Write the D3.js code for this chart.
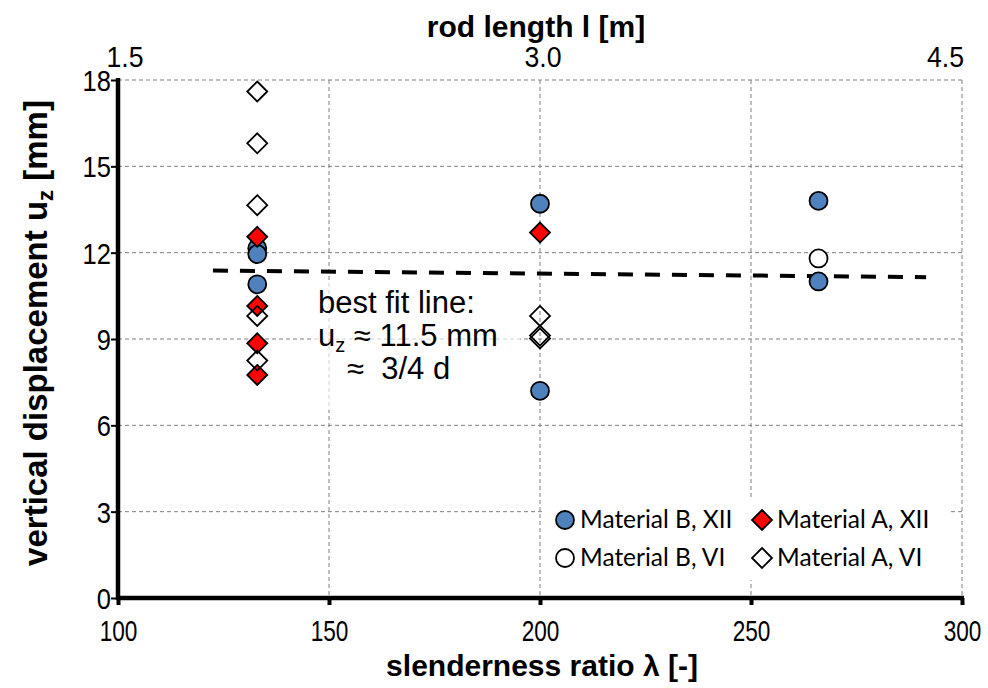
<!DOCTYPE html>
<html>
<head>
<meta charset="utf-8">
<script src="https://cdn.jsdelivr.net/npm/d3@7"></script>
<style>
  html, body { margin: 0; padding: 0; background: #fff; }
  svg { display: block; }
</style>
</head>
<body>
<svg id="chart" width="988" height="688"></svg>
<script>
// Slenderness ratio positions and measured vertical displacement per series
const lambdaBXII = [133, 133, 133, 200, 200, 266, 266];
const uzBXII     = [12.15, 11.95, 10.9, 13.7, 7.2, 13.8, 11.0];

const lambdaBVI  = [266];
const uzBVI      = [11.8];

const lambdaAXII = [133, 133, 133, 133, 200];
const uzAXII     = [12.55, 10.15, 8.85, 7.75, 12.7];

const lambdaAVI  = [133, 133, 133, 133, 133, 200, 200, 200];
const uzAVI      = [17.6, 15.8, 13.65, 9.8, 8.25, 9.8, 9.12, 9.02];

// Best fit line end points
const fitLambda = [122.5, 291.5];
const fitUz     = [11.38, 11.15];

// Axis ticks
const xTicks   = [100, 150, 200, 250, 300];
const yTicks   = [0, 3, 6, 9, 12, 15, 18];
const topTicks = [1.5, 3.0, 4.5];

const seriesNames = ["Material B, XII", "Material A, XII", "Material B, VI", "Material A, VI"];

const svg = d3.select("#chart");
const pL = 118, pR = 962, pT = 80, pB = 598;

const x = d3.scaleLinear().domain([100, 300]).range([pL, pR]);
const y = d3.scaleLinear().domain([0, 18]).range([pB, pT]);
const xTop = d3.scaleLinear().domain([1.5, 4.5]).range([pL, pR]);

const gridColor = "#808080";
const sans = "'Liberation Sans', Arial, sans-serif";

// Gridlines
const grid = svg.append("g");
grid.selectAll("line.h").data(yTicks.filter(d => d > 0)).join("line")
  .attr("x1", pL).attr("x2", pR)
  .attr("y1", d => y(d)).attr("y2", d => y(d))
  .attr("stroke", gridColor).attr("stroke-width", 1).attr("stroke-dasharray", "4,3");
grid.selectAll("line.v").data(xTicks.filter(d => d > 100)).join("line")
  .attr("x1", d => x(d)).attr("x2", d => x(d))
  .attr("y1", pT).attr("y2", pB)
  .attr("stroke", gridColor).attr("stroke-width", 1).attr("stroke-dasharray", "4,3");

// Translucent box behind the annotation
svg.append("rect")
  .attr("x", 314).attr("y", 283).attr("width", 206).attr("height", 127)
  .attr("fill", "#fff").attr("fill-opacity", 0.65);

// Best fit line
svg.append("line")
  .attr("x1", x(fitLambda[0])).attr("y1", y(fitUz[0]))
  .attr("x2", x(fitLambda[1])).attr("y2", y(fitUz[1]))
  .attr("stroke", "#000").attr("stroke-width", 4).attr("stroke-dasharray", "15,12");

// Axes
const tickFont = 29;
const xAxis = d3.axisBottom(x).tickValues(xTicks).tickSize(7).tickFormat(d3.format("d"));
const gx = svg.append("g").attr("transform", `translate(0,${pB})`).call(xAxis);
gx.select(".domain").remove();
gx.selectAll(".tick line").attr("stroke", "#000").attr("stroke-width", 4);
gx.selectAll(".tick text")
  .attr("font-family", sans).attr("font-size", tickFont)
  .attr("fill", "#000").attr("dy", null).attr("y", 43);

const yAxis = d3.axisLeft(y).tickValues(yTicks).tickSize(7).tickFormat(d3.format("d"));
const gy = svg.append("g").attr("transform", `translate(${pL},0)`).call(yAxis);
gy.select(".domain").remove();
gy.selectAll(".tick line").attr("stroke", "#000").attr("stroke-width", 2);
gy.selectAll(".tick text")
  .attr("font-family", sans).attr("font-size", tickFont)
  .attr("fill", "#000").attr("x", -7).attr("dy", "0.36em");

// Thick axis lines
svg.append("line").attr("x1", pL).attr("x2", pL).attr("y1", pT - 2).attr("y2", pB + 2)
  .attr("stroke", "#000").attr("stroke-width", 4.5);
svg.append("line").attr("x1", pL - 2).attr("x2", pR + 2).attr("y1", pB).attr("y2", pB)
  .attr("stroke", "#000").attr("stroke-width", 4.5);

// Condense tick label glyphs horizontally
function condense(sel, sx) {
  sel.each(function() {
    const t = d3.select(this);
    const tx = +t.attr("x") || 0, ty = +t.attr("y") || 0;
    t.attr("transform", `translate(${tx},${ty}) scale(${sx},1)`).attr("x", 0).attr("y", 0);
  });
}
condense(gx.selectAll(".tick text"), 0.78);
condense(gy.selectAll(".tick text"), 0.88);

// Top axis (rod length)
const gt = svg.append("g");
gt.selectAll("text").data(topTicks).join("text")
  .attr("transform", (d, i) => {
    const px = i === topTicks.length - 1 ? xTop(d) + 2 : (i === 0 ? xTop(d) + 7 : xTop(d) + 3);
    return `translate(${px},67) scale(0.92,1)`;
  })
  .attr("text-anchor", (d, i) => i === topTicks.length - 1 ? "end" : "middle")
  .attr("font-family", sans).attr("font-size", tickFont)
  .text(d => d3.format(".1f")(d));

// Axis titles
svg.append("text")
  .attr("x", 536).attr("y", 37)
  .attr("text-anchor", "middle")
  .attr("font-family", sans).attr("font-weight", "bold").attr("font-size", 30)
  .text("rod length l [m]");

svg.append("text")
  .attr("x", 542).attr("y", 676)
  .attr("text-anchor", "middle")
  .attr("font-family", sans).attr("font-weight", "bold").attr("font-size", 30)
  .text("slenderness ratio λ [-]");

const yTitle = svg.append("text")
  .attr("transform", "translate(47,333) rotate(-90)")
  .attr("text-anchor", "middle")
  .attr("font-family", sans).attr("font-weight", "bold").attr("font-size", 33);
yTitle.append("tspan").text("vertical displacement u");
yTitle.append("tspan").attr("font-size", 22).attr("dy", 6).text("z");
yTitle.append("tspan").attr("dy", -6).text(" [mm]");

// Annotation text
const ann = svg.append("g").attr("font-family", sans).attr("font-size", 31).attr("fill", "#000");
ann.append("text").attr("x", 318).attr("y", 313).text("best fit line:");
const l2 = ann.append("text").attr("x", 318).attr("y", 346);
l2.append("tspan").text("u");
l2.append("tspan").attr("font-size", 20).attr("dy", 6).text("z");
l2.append("tspan").attr("dy", -6).text(" ≈ 11.5 mm");
ann.append("text").attr("x", 347).attr("y", 379).text("≈\u00A0 3/4 d");

// Marker shapes
const diamond = r => `M0,${-r}L${r},0L0,${r}L${-r},0Z`;
const blue = "#4F81BD";

function circles(lx, ly, fill) {
  svg.append("g").selectAll("circle").data(lx.map((d, i) => [d, ly[i]])).join("circle")
    .attr("cx", d => x(d[0])).attr("cy", d => y(d[1])).attr("r", 9)
    .attr("fill", fill).attr("stroke", "#000").attr("stroke-width", 1.8);
}
function diamonds(lx, ly, fill) {
  svg.append("g").selectAll("path").data(lx.map((d, i) => [d, ly[i]])).join("path")
    .attr("transform", d => `translate(${x(d[0])},${y(d[1])})`)
    .attr("d", diamond(10))
    .attr("fill", fill).attr("stroke", "#000").attr("stroke-width", 1.8);
}
circles(lambdaBXII, uzBXII, blue);
circles(lambdaBVI, uzBVI, "#fff");
diamonds(lambdaAXII, uzAXII, "#FF0000");
diamonds(lambdaAVI, uzAVI, "none");

// Legend
const legend = svg.append("g");
legend.append("rect").attr("x", 545).attr("y", 499).attr("width", 404).attr("height", 81).attr("fill", "#fff");
const legendItems = [
  { name: seriesNames[0], shape: "circle", fill: blue, lx: 565, ly: 520 },
  { name: seriesNames[1], shape: "diamond", fill: "#FF0000", lx: 762, ly: 520 },
  { name: seriesNames[2], shape: "circle", fill: "#fff", lx: 565, ly: 558 },
  { name: seriesNames[3], shape: "diamond", fill: "#fff", lx: 762, ly: 558 }
];
legendItems.forEach(it => {
  if (it.shape === "circle") {
    legend.append("circle").attr("cx", it.lx).attr("cy", it.ly).attr("r", 9)
      .attr("fill", it.fill).attr("stroke", "#000").attr("stroke-width", 1.8);
  } else {
    legend.append("path").attr("transform", `translate(${it.lx},${it.ly})`).attr("d", diamond(10))
      .attr("fill", it.fill).attr("stroke", "#000").attr("stroke-width", 1.8);
  }
  legend.append("text").attr("x", it.lx + 15).attr("y", it.ly + 8)
    .attr("font-family", "Lato, 'Open Sans', sans-serif").attr("font-size", 24.5)
    .text(it.name);
});
</script>
</body>
</html>
